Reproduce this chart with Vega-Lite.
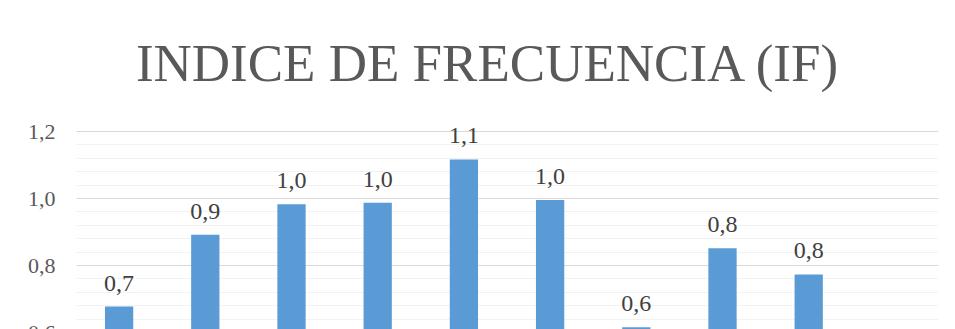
{
  "$schema": "https://vega.github.io/schema/vega-lite/v6.json",
  "width": 862,
  "height": 402,
  "autosize": {"type": "none"},
  "padding": {"left": 76, "top": 131, "right": 30, "bottom": 60},
  "title": {
    "text": "INDICE DE FRECUENCIA (IF)",
    "font": "Liberation Serif",
    "fontSize": 53,
    "fontWeight": "normal",
    "color": "#595959",
    "anchor": "middle",
    "frame": "group",
    "dx": -20,
    "offset": -14,
    "baseline": "alphabetic"
  },
  "config": {
    "locale": {"number": {"decimal": ",", "thousands": ".", "grouping": [3], "currency": ["", " €"]}},
    "view": {"stroke": null},
    "axis": {"labelFont": "Liberation Serif", "labelColor": "#595959"}
  },
  "data": {
    "values": [
      {"mes": "ENERO", "valor": 0.676},
      {"mes": "FEBRERO", "valor": 0.89},
      {"mes": "MARZO", "valor": 0.981},
      {"mes": "ABRIL", "valor": 0.986},
      {"mes": "MAYO", "valor": 1.115},
      {"mes": "JUNIO", "valor": 0.994},
      {"mes": "JULIO", "valor": 0.614},
      {"mes": "AGOSTO", "valor": 0.85},
      {"mes": "SEPTIEMBRE", "valor": 0.772},
      {"mes": "OCTUBRE", "valor": 0.4}
    ]
  },
  "encoding": {
    "x": {
      "field": "mes",
      "type": "nominal",
      "sort": null,
      "scale": {"paddingInner": 0.672, "paddingOuter": 0.336},
      "axis": {"title": null, "labelAngle": 0, "labelFontSize": 16, "ticks": false, "domainColor": "#D9D9D9", "labelPadding": 8}
    }
  },
  "layer": [
    {
      "mark": {"type": "bar", "color": "#5B9BD5"},
      "encoding": {
        "y": {
          "field": "valor",
          "type": "quantitative",
          "scale": {"domain": [0, 1.2], "nice": false, "zero": true},
          "axis": {
            "orient": "left",
            "title": null,
            "values": [0.04, 0.08, 0.12, 0.16, 0.24, 0.28, 0.32, 0.36, 0.44, 0.48, 0.52, 0.56, 0.64, 0.68, 0.72, 0.76, 0.84, 0.88, 0.92, 0.96, 1.04, 1.08, 1.12, 1.16],
            "labels": false,
            "ticks": false,
            "domain": false,
            "grid": true,
            "gridColor": "#F2F2F2",
            "gridWidth": 1
          }
        }
      }
    },
    {
      "mark": {"type": "text", "font": "Liberation Serif", "fontSize": 24, "color": "#404040", "baseline": "alphabetic", "dy": -16},
      "encoding": {
        "y": {
          "field": "valor",
          "type": "quantitative",
          "axis": {
            "orient": "left",
            "title": null,
            "values": [0, 0.2, 0.4, 0.6, 0.8, 1.0, 1.2],
            "format": ".1f",
            "labelFontSize": 22,
            "labelPadding": 21,
            "ticks": false,
            "domain": false,
            "grid": true,
            "gridColor": "#D9D9D9",
            "gridWidth": 1
          }
        },
        "text": {"field": "valor", "type": "quantitative", "format": ".1f"}
      }
    }
  ],
  "resolve": {"axis": {"y": "independent"}}
}
